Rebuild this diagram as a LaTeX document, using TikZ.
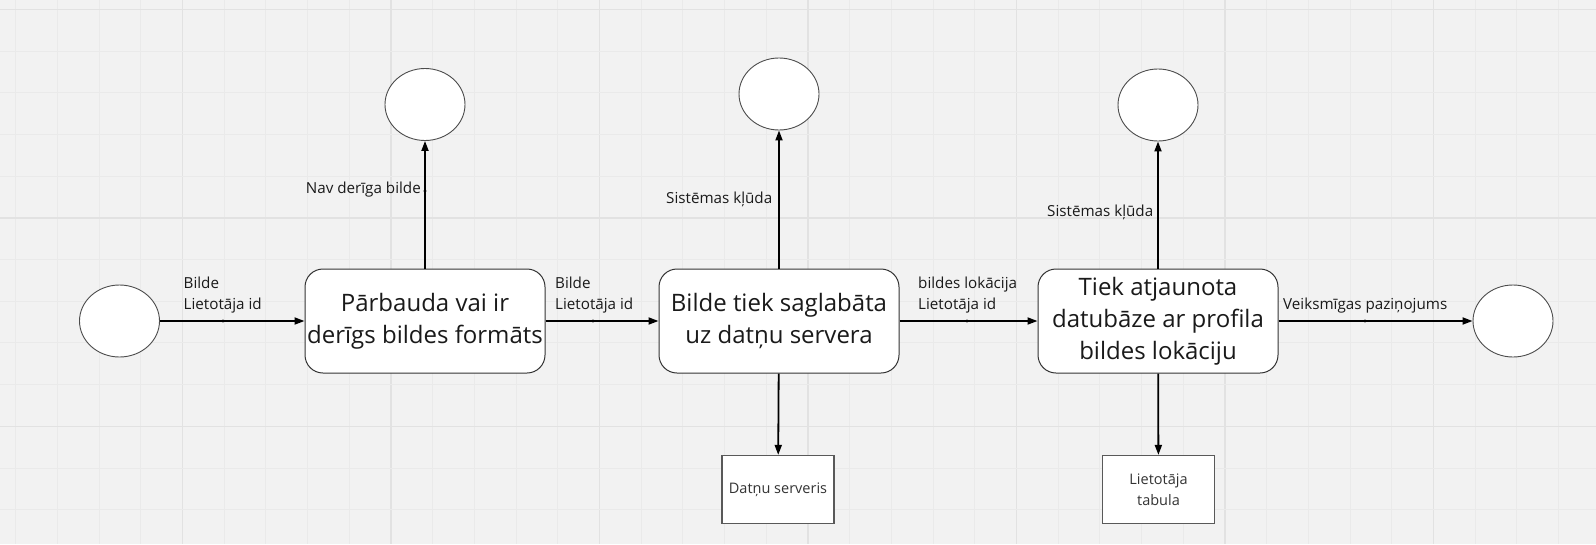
\documentclass[tikz,border=0pt]{standalone}
\usepackage{fontspec}
\setmainfont{Open Sans}
\usetikzlibrary{shapes.geometric,arrows.meta}
\definecolor{bg}{HTML}{F2F2F2}
\definecolor{gridminor}{HTML}{EAEAEA}
\definecolor{gridmajor}{HTML}{E2E2E2}
\definecolor{textdark}{HTML}{1A1A1A}
\begin{document}
\begin{tikzpicture}[x=1pt,y=-1pt,
  circ/.style={ellipse,draw=black!70,fill=white,line width=0.9pt,minimum width=80pt,minimum height=72pt,inner sep=0pt},
  proc/.style={rectangle,rounded corners=18pt,draw=black!80,fill=white,line width=1pt,minimum width=240pt,minimum height=104pt,align=center,font=\fontsize{24}{32}\selectfont,text=textdark,inner sep=0pt},
  store/.style={rectangle,draw=black!65,fill=white,line width=1.2pt,minimum width=112pt,minimum height=68pt,align=center,font=\fontsize{14.5}{20.5}\selectfont,text=black!80,inner sep=0pt},
  flow/.style={draw=black,line width=1.8pt,-{Triangle[length=10pt,width=7pt]}},
  lbl/.style={font=\fontsize{15.2}{21}\selectfont,inner sep=0pt,align=left,text=textdark},
  dotmark/.style={fill=black},
]
\useasboundingbox (0,0) rectangle (1596,544);
\fill[bg] (0,0) rectangle (1596,544);
% grid
\foreach \i in {0,...,38} {
  \pgfmathsetmacro{\gx}{15.7+41.7*\i}
  \pgfmathtruncatemacro{\m}{mod(\i+1,5)}
  \ifnum\m=0
    \draw[gridmajor,line width=1.6pt] (\gx,0) -- (\gx,544);
  \else
    \draw[gridminor,line width=1pt] (\gx,0) -- (\gx,544);
  \fi
}
\foreach \j in {0,...,13} {
  \pgfmathsetmacro{\gy}{9.3+41.7*\j}
  \pgfmathtruncatemacro{\m}{mod(\j,5)}
  \ifnum\m=0
    \draw[gridmajor,line width=1.6pt] (0,\gy) -- (1596,\gy);
  \else
    \draw[gridminor,line width=1pt] (0,\gy) -- (1596,\gy);
  \fi
}

% nodes
\node[circ] (s) at (119.5,321) {};
\node[proc] (b1) at (425,321) {Pārbauda vai ir\\derīgs bildes formāts};
\node[proc] (b2) at (779,321) {Bilde tiek saglabāta\\uz datņu servera};
\node[proc] (b3) at (1158,321) {Tiek atjaunota\\datubāze ar profila\\bildes lokāciju};
\node[circ] (e) at (1513,321) {};
\node[circ] (t1) at (425,104.5) {};
\node[circ] (t2) at (779,94) {};
\node[circ] (t3) at (1158,105) {};
\node[store] (d1) at (778,489.5) {Datņu serveris};
\node[store] (d2) at (1158.5,489.5) {Lietotāja\\tabula};

% connectors
\draw[flow] (s) -- (b1);
\draw[flow] (b1) -- (b2);
\draw[flow] (b2) -- (b3);
\draw[flow] (b3) -- (e);
\draw[flow] (b1) -- (t1);
\draw[flow] (b2) -- (t2);
\draw[flow] (b3) -- (t3);
\draw[flow] (b2) -- (d1);
\draw[flow] (b3) -- (d2);

% small label anchors on connectors
\fill[dotmark] (223,321) circle (1.6);
\fill[dotmark] (593,321) circle (1.6);
\fill[dotmark] (967,321) circle (1.6);
\fill[dotmark] (1365,321) circle (1.6);
\fill[dotmark] (425,191) circle (1.6);

% labels
\node[lbl,anchor=west] (l1) at (183.5,295.2) {Bilde\\Lietotāja id};
\node[lbl,anchor=west] (l2) at (555,295.5) {Bilde\\Lietotāja id};
\node[lbl,anchor=west] (l3) at (918,295.5) {bildes lokācija\\Lietotāja id};
\node[lbl,anchor=west] (l4) at (1283,306) {Veiksmīgas paziņojums};
\node[lbl,anchor=east] (l5) at (421,190) {Nav derīga bilde};
\node[lbl,anchor=west] (l6) at (666,199) {Sistēmas kļūda};
\node[lbl,anchor=west] (l7) at (1047,212) {Sistēmas kļūda};
\end{tikzpicture}
\end{document}
